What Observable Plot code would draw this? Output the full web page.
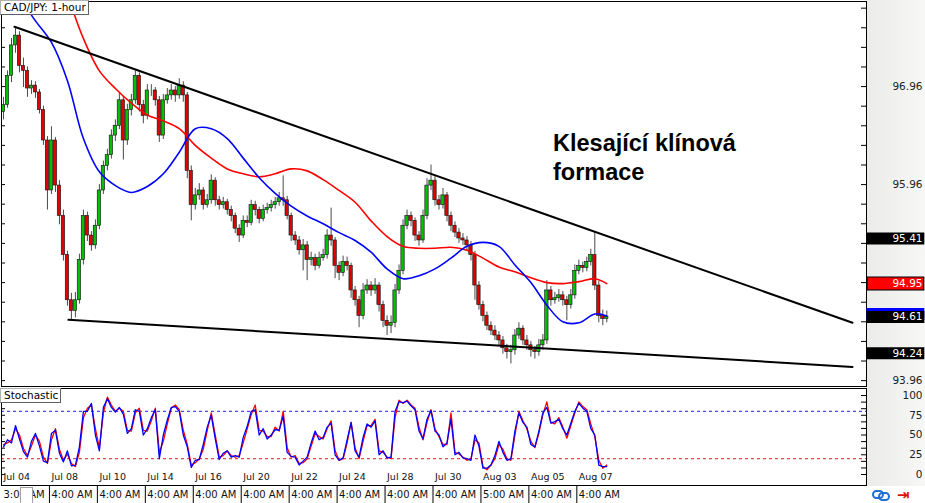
<!DOCTYPE html>
<html><head><meta charset="utf-8">
<script src="https://cdn.jsdelivr.net/npm/d3@7"></script>
<script src="https://cdn.jsdelivr.net/npm/@observablehq/plot@0.6"></script>
<style>
body{margin:0;background:#fff;}
#wrap{position:relative;width:925px;height:503px;overflow:hidden;font-family:"DejaVu Sans",sans-serif;background:#fff;}
#gray{position:absolute;left:866px;top:0;width:59px;height:486px;background:linear-gradient(to right,#ebebea,#f7f7f5);}
.pane{position:absolute;left:0;}
.lbl{position:absolute;z-index:5;background:#fff;border:1px solid #b0b0b0;border-right-color:#606060;border-bottom-color:#606060;font-size:10.5px;line-height:13px;padding:0 2px 0 3px;color:#000;white-space:nowrap;}
#note{position:absolute;z-index:5;left:553px;top:129px;font-family:"Liberation Sans",Arial,sans-serif;font-weight:bold;font-size:23.5px;line-height:29px;color:#000;}
#thumb{position:absolute;z-index:5;left:20px;top:487px;width:11px;height:15px;background:#fff;border:1px solid #a0a0a0;}
#icons{position:absolute;z-index:5;left:870px;top:487px;}
</style></head><body>
<div id="wrap">
  <div id="gray"></div>
  <div class="pane" id="main" style="top:0"></div>
  <div class="pane" id="stoch" style="top:387px"></div>
  <div class="pane" id="time" style="top:486px"></div>
  <div class="lbl" style="left:0;top:0;">CAD/JPY: 1-hour</div>
  <div class="lbl" style="left:0;top:388px;">Stochastic</div>
  <div id="note">Klesající klínová<br>formace</div>
  <div id="thumb"></div>
  <svg id="icons" width="50" height="16">
    <rect x="3" y="4" width="10" height="7" rx="3.5" fill="none" stroke="#1f6fd6" stroke-width="2"/>
    <rect x="9" y="6" width="10" height="7" rx="3.5" fill="none" stroke="#1f6fd6" stroke-width="2"/>
    <text x="27" y="13" fill="#e01010" font-size="15" font-family="DejaVu Sans" font-weight="bold">⇥</text>
  </svg>
</div>
<script>
// ---------- DATA ----------
const firstOpen = 96.70;
const closes = [
96.77,97.07,97.38,97.48,97.17,97.12,96.94,96.97,96.90,96.72,
96.41,95.90,96.41,95.95,95.64,95.24,94.78,94.67,94.78,95.19,
95.64,95.44,95.34,95.54,95.90,96.15,96.26,96.46,96.56,96.82,
96.41,96.72,96.82,97.07,96.77,96.66,96.92,96.92,96.82,96.46,
96.82,96.87,96.92,96.87,96.97,96.87,96.10,95.75,95.85,95.90,
95.75,95.80,96.00,95.80,95.75,95.78,95.70,95.64,95.51,95.44,
95.59,95.57,95.75,95.70,95.61,95.70,95.72,95.75,95.78,95.82,
95.80,95.64,95.44,95.39,95.29,95.34,95.19,95.21,95.13,95.21,
95.24,95.44,95.39,95.13,95.06,95.17,95.13,94.88,94.78,94.62,
94.88,94.93,94.88,94.93,94.73,94.57,94.52,94.55,94.88,95.08,
95.54,95.64,95.59,95.44,95.39,95.64,95.95,96.00,95.80,95.75,
95.85,95.64,95.54,95.47,95.41,95.39,95.34,95.24,94.93,94.73,
94.62,94.52,94.47,94.42,94.37,94.29,94.25,94.27,94.42,94.49,
94.37,94.32,94.27,94.25,94.32,94.37,94.88,94.78,94.80,94.83,
94.78,94.73,94.83,95.08,95.13,95.11,95.17,95.24,94.93,94.62,
94.59,94.61];
const highs = [
96.85,97.12,97.45,97.57,97.52,97.25,97.16,97.02,97.01,96.93,
96.76,96.45,96.55,96.44,96.00,95.70,95.28,94.85,94.86,95.25,
95.70,95.68,95.48,95.60,95.96,96.20,96.32,96.52,96.62,96.90,
96.86,96.78,96.88,97.12,97.10,96.82,96.98,96.98,96.95,96.86,
96.88,96.94,96.98,96.96,97.04,97.01,96.90,96.15,95.92,95.97,
95.93,95.86,96.06,96.03,95.84,95.83,95.81,95.74,95.67,95.55,
95.64,95.64,95.80,95.79,95.73,95.75,95.77,95.80,95.83,95.88,
96.05,95.84,95.67,95.48,95.43,95.40,95.38,95.27,95.25,95.27,
95.30,95.50,95.72,95.42,95.17,95.23,95.22,95.16,94.92,94.82,
94.95,94.99,94.97,95.00,94.96,94.77,94.62,94.62,94.94,95.14,
95.60,95.70,95.68,95.62,95.48,95.70,96.02,96.16,96.04,95.85,
95.92,95.88,95.68,95.58,95.51,95.46,95.43,95.38,95.28,94.97,
94.77,94.66,94.56,94.52,94.46,94.41,94.33,94.32,94.48,94.55,
94.52,94.42,94.36,94.31,94.38,94.43,94.98,94.92,94.86,94.89,
94.87,94.82,94.89,95.14,95.19,95.17,95.22,95.30,95.47,94.97,
94.68,94.67];
const lows = [
96.62,96.74,97.00,97.30,97.10,96.95,96.85,96.88,96.84,96.68,
96.36,95.70,95.86,95.88,95.55,95.18,94.72,94.58,94.60,94.74,
95.14,95.38,95.28,95.30,95.50,95.86,96.10,96.22,96.40,96.52,
96.21,96.36,96.66,96.78,96.70,96.58,96.62,96.86,96.76,96.39,
96.42,96.78,96.82,96.80,96.83,96.80,96.02,95.59,95.70,95.80,
95.70,95.72,95.76,95.74,95.70,95.71,95.65,95.58,95.46,95.37,
95.41,95.52,95.54,95.64,95.56,95.58,95.66,95.68,95.71,95.74,
95.74,95.60,95.38,95.34,95.24,95.08,94.98,95.13,95.08,95.10,
95.18,95.20,95.33,95.00,94.98,95.02,95.08,94.80,94.72,94.50,
94.58,94.84,94.82,94.84,94.66,94.50,94.42,94.44,94.50,94.84,
95.04,95.50,95.53,95.38,95.33,95.36,95.60,95.90,95.74,95.70,
95.71,95.58,95.48,95.42,95.36,95.34,95.28,95.18,94.78,94.68,
94.56,94.47,94.42,94.37,94.31,94.23,94.18,94.13,94.22,94.38,
94.32,94.27,94.20,94.18,94.21,94.27,94.33,94.72,94.74,94.76,
94.72,94.57,94.69,94.79,95.04,95.06,95.07,95.13,94.88,94.55,
94.52,94.55];

// moving averages, one value every 4 bars (last one at the final bar)
const maBlue = [98.10,97.87,97.63,97.41,97.02,96.43,96.09,95.95,95.88,95.94,
96.07,96.29,96.53,96.53,96.43,96.23,96.03,95.87,95.74,95.64,
95.56,95.47,95.39,95.27,95.10,95.00,95.03,95.10,95.21,95.33,
95.37,95.33,95.14,94.96,94.73,94.56,94.55,94.64,94.62];
const maRed = [null,null,null,98.40,97.90,97.45,97.12,96.94,96.79,96.67,
96.61,96.53,96.36,96.23,96.12,96.07,96.04,96.07,96.12,96.10,
96.01,95.90,95.78,95.59,95.43,95.33,95.31,95.31,95.32,95.29,
95.21,95.12,95.07,95.01,94.96,94.95,94.97,95.00,94.95];

// stochastic (blue main, red signal)
const stochBlue = [
35,44,40,62,45,29,22,42,52,36, 17,15,52,56,27,16,30,11,12,35,
80,80,90,50,30,85,96,85,79,85, 76,52,58,82,80,50,58,72,82,20,
50,69,85,86,80,50,35,9,18,19, 38,60,75,45,19,27,30,22,24,22,
47,61,80,82,50,58,45,50,57,56, 74,28,23,22,12,17,22,40,55,44,
47,60,65,25,18,21,44,66,30,22, 47,64,60,68,25,30,21,22,80,92,
91,93,87,82,55,45,70,81,55,50, 35,40,70,25,28,21,20,18,50,36,
8,8,12,24,42,28,18,20,55,78, 66,60,38,35,55,78,85,65,67,70,
58,50,65,80,90,84,80,58,50,12, 10,10];
const stochRed = [
38,40,44,58,50,33,24,36,50,42, 22,14,44,58,32,18,26,14,10,28,
72,84,88,58,34,78,98,88,80,84, 80,56,55,78,84,56,55,68,84,28,
42,64,84,88,82,56,38,12,15,20, 32,56,78,50,22,24,30,24,22,24,
40,58,76,88,56,55,48,48,60,55, 80,34,22,24,14,15,20,36,52,48,
45,58,68,30,18,20,40,66,34,20, 42,62,62,70,30,28,22,20,72,94,
90,94,88,84,60,44,66,82,58,48, 38,38,78,28,26,22,18,20,44,40,
10,6,12,20,38,32,20,18,50,80, 68,58,42,34,52,76,92,66,64,72,
60,46,62,78,92,86,82,64,48,18, 8,12];

const dateLabels = ["Jul 04","Jul 08","Jul 10","Jul 14","Jul 16","Jul 20","Jul 22","Jul 24","Jul 28","Jul 30","Aug 03","Aug 05","Aug 07"];
const labelBars = [0,12,24,36,48,60,72,84,96,108,120,132,144];
const timeLabels = ["3:00 AM","4:00 AM","4:00 AM","4:00 AM","4:00 AM","4:00 AM","4:00 AM","4:00 AM","4:00 AM","4:00 AM","5:00 AM","4:00 AM","4:00 AM"];
const priceTickLabels = [96.96, 95.96, 94.96, 93.96];
const stochTickLabels = [100, 75, 50, 25, 0];
const stochLevels = [{v: 80, c: "#4a4af0"}, {v: 20, c: "#e04a4a"}];
const upperTrend = [{bar: 2.75, price: 97.57}, {bar: 212.5, price: 94.55}];
const lowerTrend = [{bar: 16.25, price: 94.58}, {bar: 212.5, price: 94.10}];
// the blue tag (94.64) sits almost fully under the black 94.61 tag, so only its box shows
const priceTags = [
  {price: 94.64, fill: "#0000ff", text: ""},
  {price: 94.95, fill: "#ff0000", text: "94.95", border: true},
  {price: 95.41, fill: "#000000", text: "95.41"},
  {price: 94.61, fill: "#000000", text: "94.61"},
  {price: 94.24, fill: "#000000", text: "94.24"}
];

// ---------- BUILD ----------
const X_MIN = -0.5, X_MAX = 216, TAG_END = 230.6;
const bars = closes.map((c, i) => ({i, open: i ? closes[i - 1] : firstOpen, close: c, high: highs[i], low: lows[i]}));
const maBar = k => (k < maBlue.length - 1 ? 4 * k : closes.length - 1);
const blueMA = maBlue.map((v, k) => ({bar: maBar(k), v}));
const redMA = maRed.map((v, k) => ({bar: maBar(k), v})).filter(d => d.v != null);
const priceMinor = d3.range(93.96, 97.83, 0.2);
const stochMinor = d3.range(0, 100.01, 25 / 3);
const font = {fontFamily: "DejaVu Sans, sans-serif", fontSize: "10.5px", background: "transparent", overflow: "visible", color: "black"};

const main = Plot.plot({
  width: 925, height: 387,
  marginLeft: 1, marginRight: 59, marginTop: 1, marginBottom: 1,
  x: {domain: [X_MIN, X_MAX], axis: null},
  y: {domain: [93.90, 97.828], axis: null},
  style: font,
  marks: [
    Plot.frame({fill: "white"}),
    Plot.ruleY(priceMinor, {x1: X_MIN, x2: X_MIN + 1, stroke: "black"}),
    Plot.ruleY(priceMinor, {x1: X_MAX - 1.25, x2: X_MAX, stroke: "black"}),
    Plot.ruleX(bars, {x: "i", y1: "low", y2: "high", stroke: "#4a4a4a", strokeWidth: 1}),
    Plot.rect(bars, {x1: d => d.i - 0.42, x2: d => d.i + 0.42, y1: "open", y2: "close",
      fill: d => d.close >= d.open ? "#00c000" : "#e00000", stroke: "#111", strokeWidth: 0.6}),
    Plot.line(redMA, {x: "bar", y: "v", stroke: "#ff0000", strokeWidth: 1.6, curve: "catmull-rom", clip: true}),
    Plot.line(blueMA, {x: "bar", y: "v", stroke: "#0000ff", strokeWidth: 1.6, curve: "catmull-rom", clip: true}),
    Plot.line(upperTrend, {x: "bar", y: "price", stroke: "black", strokeWidth: 2}),
    Plot.line(lowerTrend, {x: "bar", y: "price", stroke: "black", strokeWidth: 2}),
    Plot.frame({stroke: "black"}),
    Plot.text(priceTickLabels, {y: d => d, text: d => d.toFixed(2), frameAnchor: "right", dx: 56, textAnchor: "end", fill: "#222"}),
    Plot.ruleY(priceTags.filter(d => d.border), {y: "price", x1: X_MAX + 0.1, x2: TAG_END, stroke: "black", strokeWidth: 14}),
    Plot.ruleY(priceTags, {y: "price", x1: d => X_MAX + (d.border ? 0.4 : 0.1), x2: d => TAG_END - (d.border ? 0.3 : 0), stroke: "fill", strokeWidth: 12}),
    Plot.text(priceTags.filter(d => d.text), {y: "price", text: "text", frameAnchor: "right", dx: 56, textAnchor: "end", fill: "white"})
  ]
});
document.getElementById("main").append(main);

const stoch = Plot.plot({
  width: 925, height: 99,
  marginLeft: 1, marginRight: 59, marginTop: 1, marginBottom: 1,
  x: {domain: [X_MIN, X_MAX], axis: null},
  y: {domain: [-13.9, 108.9], axis: null},
  style: font,
  marks: [
    Plot.frame({fill: "white"}),
    Plot.ruleY(stochMinor, {x1: X_MIN, x2: X_MIN + 1, stroke: "black"}),
    Plot.ruleY(stochMinor, {x1: X_MAX - 1.25, x2: X_MAX, stroke: "black"}),
    Plot.ruleY(stochLevels, {y: "v", stroke: "c", strokeDasharray: "3,3", strokeWidth: 1.3}),
    Plot.line(stochRed, {x: (d, i) => i, y: d => d, stroke: "#ff0000", strokeWidth: 1.3}),
    Plot.line(stochBlue, {x: (d, i) => i, y: d => d, stroke: "#0000ff", strokeWidth: 1.3}),
    Plot.text(dateLabels, {x: (d, i) => labelBars[i], text: d => d, frameAnchor: "bottom", dy: -6, textAnchor: "start", fontSize: 9.5, fill: "#111"}),
    Plot.frame({stroke: "black"}),
    Plot.text(stochTickLabels, {y: d => d, text: d => String(d), frameAnchor: "right", dx: 56, textAnchor: "end", fill: "#222"})
  ]
});
document.getElementById("stoch").append(stoch);

const timeRow = Plot.plot({
  width: 925, height: 17,
  marginLeft: 1, marginRight: 59, marginTop: 0, marginBottom: 0,
  x: {domain: [X_MIN, X_MAX], axis: null},
  style: font,
  marks: [
    Plot.ruleX(labelBars.slice(1), {x: d => d - 0.5, stroke: "black"}),
    Plot.text(timeLabels, {x: (d, i) => labelBars[i] - 0.5, dx: 2, text: d => d, frameAnchor: "middle", textAnchor: "start", fontSize: 10, fill: "#111"})
  ]
});
document.getElementById("time").append(timeRow);
</script>
</body></html>
